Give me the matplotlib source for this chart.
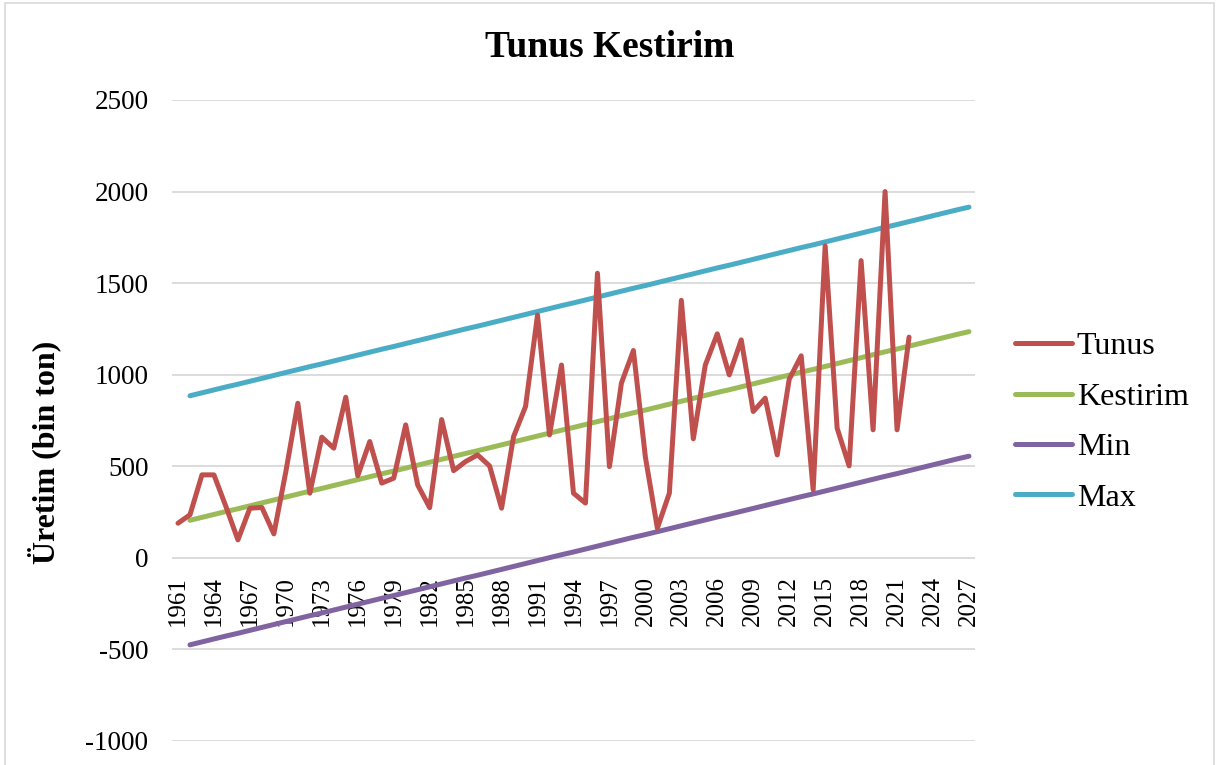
import matplotlib
matplotlib.use("Agg")
import matplotlib.pyplot as plt
from matplotlib.patches import Rectangle

plt.rcParams['font.family'] = ['Liberation Serif', 'DejaVu Serif']
plt.rcParams['axes.unicode_minus'] = False

# Observed production, 1961-2022 (thousand tonnes)
tunus_years = list(range(1961, 2023))
tunus = [189, 235, 453, 453, 280, 98, 271, 275, 131, 471,
         844, 353, 659, 599, 877, 448, 635, 408, 435, 726,
         398, 274, 755, 476, 526, 562, 502, 271, 662, 826,
         1326, 671, 1053, 353, 299, 1554, 498, 954, 1132, 550,
         162, 353, 1406, 650, 1053, 1223, 999, 1190, 799, 872,
         562, 975, 1103, 371, 1703, 708, 502, 1623, 699, 2000,
         699, 1205]

# Trend forecast with lower / upper bounds, 1962-2027
fc_years = list(range(1962, 2028))
kestirim = [205, 221, 237, 253, 268, 284, 300, 316, 332, 348,
            364, 379, 395, 411, 427, 443, 459, 474, 490, 506,
            522, 538, 554, 570, 585, 601, 617, 633, 649, 665,
            681, 697, 712, 728, 744, 760, 776, 792, 807, 823,
            839, 855, 871, 887, 903, 918, 934, 950, 966, 982,
            998, 1014, 1029, 1045, 1061, 1077, 1093, 1109, 1125, 1140,
            1156, 1172, 1188, 1204, 1220, 1235]
max_vals = [885, 901, 917, 933, 948, 964, 980, 996, 1012, 1028,
            1044, 1059, 1075, 1091, 1107, 1123, 1139, 1154, 1170, 1186,
            1202, 1218, 1234, 1250, 1265, 1281, 1297, 1313, 1329, 1345,
            1361, 1377, 1392, 1408, 1424, 1440, 1456, 1472, 1487, 1503,
            1519, 1535, 1551, 1567, 1583, 1598, 1614, 1630, 1646, 1662,
            1678, 1694, 1709, 1725, 1741, 1757, 1773, 1789, 1805, 1820,
            1836, 1852, 1868, 1884, 1900, 1915]
min_vals = [-475, -459, -443, -427, -412, -396, -380, -364, -348, -332,
            -316, -301, -285, -269, -253, -237, -221, -206, -190, -174,
            -158, -142, -126, -110, -95, -79, -63, -47, -31, -15,
            1, 17, 32, 48, 64, 80, 96, 112, 127, 143,
            159, 175, 191, 207, 223, 238, 254, 270, 286, 302,
            318, 334, 349, 365, 381, 397, 413, 429, 445, 460,
            476, 492, 508, 524, 540, 555]

year_ticks = list(range(1961, 2028, 3))
y_ticks = [-1000, -500, 0, 500, 1000, 1500, 2000, 2500]

fig = plt.figure(figsize=(12.19, 7.65), dpi=100)
fig.patches.append(Rectangle((0.004, -0.05), 0.992, 1.046, transform=fig.transFigure,
                             fill=False, edgecolor='#D9D9D9', linewidth=1.2))

ax = fig.add_axes([0.1411, 0.0314, 0.6587, 0.8379])

# category axis crosses the value axis at zero
for side in ['top', 'right', 'left']:
    ax.spines[side].set_visible(False)
ax.spines['bottom'].set_position(('data', 0))
ax.spines['bottom'].set_visible(False)

lw = 3.6
style = dict(linewidth=lw, solid_joinstyle='round', solid_capstyle='round')
ax.plot(tunus_years, tunus, color='#C0504D', label='Tunus', zorder=5, **style)
ax.plot(fc_years, kestirim, color='#9BBB59', label='Kestirim', zorder=4, **style)
ax.plot(fc_years, min_vals, color='#8064A2', label='Min', zorder=4, **style)
ax.plot(fc_years, max_vals, color='#4BACC6', label='Max', zorder=4, **style)

ax.set_xlim(1960.5, 2027.5)
ax.set_ylim(-1000, 2500)
ax.set_yticks(y_ticks)
ax.set_xticks(year_ticks)
ax.set_xticklabels([str(y) for y in year_ticks], rotation=90, fontsize=18)
ax.tick_params(axis='y', length=0, pad=17, labelsize=19.5)
ax.tick_params(axis='x', length=0, pad=13)

ax.grid(axis='y', color='#D9D9D9', linewidth=1.3)
ax.grid(axis='x', visible=False)
ax.set_axisbelow(True)

fig.text(0.036, 0.409, 'Üretim (bin ton)', rotation=90, fontsize=23,
         fontweight='bold', ha='center', va='center')
fig.text(0.5, 0.9255, 'Tunus Kestirim', fontsize=27, fontweight='bold',
         ha='center', va='baseline')

fig.legend(loc='center left', bbox_to_anchor=(0.8327, 0.448), frameon=False,
           fontsize=23, handlelength=1.78, handletextpad=0.15, labelspacing=0.66,
           borderpad=0.0, borderaxespad=0.0)

fig.savefig('out.png', dpi=100)
